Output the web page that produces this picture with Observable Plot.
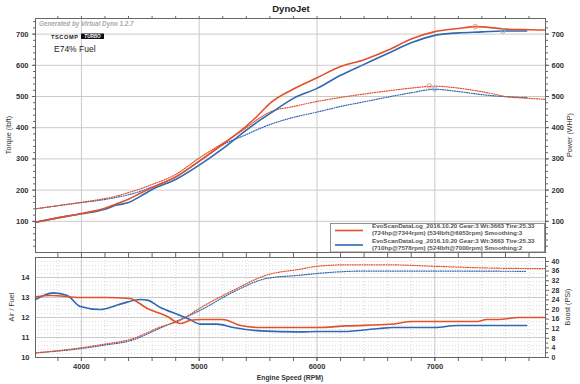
<!DOCTYPE html>
<html>
<head>
<meta charset="utf-8">
<script src="https://cdn.jsdelivr.net/npm/d3@7"></script>
<script src="https://cdn.jsdelivr.net/npm/@observablehq/plot@0.6"></script>
<style>
  html, body { margin: 0; padding: 0; background: #fff; }
  #wrap { position: relative; width: 580px; height: 384px; background: #fff; overflow: hidden; font-family: "Liberation Sans", Arial, sans-serif; }
  #wrap > svg, #wrap > div { position: absolute; left: 0; }
</style>
</head>
<body>
<div id="wrap"></div>
<script>
// ---------- data ----------
const xDomain = [3610, 7940];
const rpmMajor = [4000, 5000, 6000, 7000];

// run 1 (red) power & torque
const rpm1 = [3610, 3800, 4000, 4200, 4300, 4400, 4500, 4600, 4800, 5000, 5200, 5400, 5500, 5600, 5800, 6000, 6200, 6400, 6600, 6800, 7000, 7200, 7344, 7500, 7600, 7800, 7940];
const hp1  = [97, 111, 125, 142, 156, 171, 190, 208, 242, 293, 347, 405, 440, 478, 524, 560, 596, 618, 648, 684, 708, 718, 724, 720, 716, 714, 713];
const tq1  = [140, 150, 161, 173, 181, 192, 204, 218, 250, 303, 350, 400, 428, 450, 468, 484, 497, 508, 518, 527, 533, 527, 519, 508, 500, 494, 491];

// run 2 (blue) power & torque
const rpm2 = [3610, 3800, 4000, 4200, 4300, 4400, 4500, 4600, 4800, 5000, 5200, 5400, 5500, 5600, 5800, 6000, 6200, 6400, 6600, 6800, 7000, 7200, 7400, 7578, 7780];
const hp2  = [97, 111, 124, 139, 152, 160, 180, 202, 234, 280, 333, 392, 420, 445, 494, 526, 568, 603, 638, 672, 696, 704, 707, 710, 710];
const tq2  = [140, 150, 160, 170, 177, 185, 196, 210, 242, 292, 345, 378, 395, 410, 433, 450, 468, 483, 498, 512, 523, 516, 506, 500, 497];

// peak markers
const peakHpRpm = [7344, 7578];
const peakHp    = [724, 710];
const peakTqRpm = [6953, 7000];
const peakTq    = [534, 524];

// air / fuel
const afrRpm1 = [3610, 3740, 3990, 4200, 4415, 4480, 4560, 4670, 4730, 4810, 4840, 4920, 5010, 5200, 5350, 5520, 5700, 6000, 6250, 6620, 6815, 7000, 7360, 7440, 7530, 7720, 7940];
const afr1    = [13.03, 13.1, 13.0, 13.0, 12.95, 12.75, 12.45, 12.2, 12.05, 11.75, 11.7, 11.85, 11.9, 11.9, 11.6, 11.5, 11.5, 11.5, 11.58, 11.66, 11.8, 11.8, 11.8, 11.9, 11.9, 12.0, 12.0];
const afrRpm2 = [3610, 3680, 3760, 3880, 3990, 4160, 4330, 4500, 4560, 4670, 4840, 4920, 5010, 5150, 5290, 5520, 5860, 6000, 6220, 6530, 6640, 7000, 7190, 7780];
const afr2    = [12.9, 13.1, 13.23, 13.1, 12.55, 12.4, 12.67, 12.9, 12.87, 12.5, 12.1, 11.9, 11.67, 11.67, 11.5, 11.33, 11.28, 11.3, 11.3, 11.45, 11.5, 11.5, 11.6, 11.6];

// boost
const boostRpm1 = [3610, 3990, 4200, 4415, 4670, 4840, 5010, 5290, 5570, 5860, 6000, 6250, 6620, 7000, 7440, 7940];
const boost1    = [1.9, 4.0, 5.6, 7.5, 12.7, 15.5, 20.7, 28, 34.3, 36.8, 38.0, 38.6, 38.6, 38, 37.3, 37];
const boostRpm2 = [3610, 3990, 4200, 4415, 4670, 5010, 5290, 5570, 5860, 6000, 6390, 7000, 7780];
const boost2    = [1.9, 3.7, 5.2, 7.0, 12.3, 19.7, 27.3, 32.9, 34.3, 35, 36, 36, 35.9];

// ticks
const torqueTicks = [100, 200, 300, 400, 500, 600, 700];
const torqueMinor = d3.range(20, 750, 20);
const rpmMinor = d3.range(3800, 7941, 200);
const afrTicks = [10, 11, 12, 13, 14];
const afrMinor = d3.range(10.2, 15, 0.2);
const boostTicks = d3.range(0, 41, 4);
const boostMinor = d3.range(2, 41, 4);

// legend texts
const legendLines = [
  ["EvoScanDataLog_2016.10.20 Gear:3 Wt:3663 Tire:25.33", "(724hp@7344rpm) (534lbft@6953rpm) Smoothing:3"],
  ["EvoScanDataLog_2016.10.20 Gear:3 Wt:3663 Tire:25.33", "(710hp@7578rpm) (524lbft@7000rpm) Smoothing:2"]
];

// ---------- styles ----------
const RED = "#e2512b", BLUE = "#2f68b2";
const RED_L = "#ec9a8e", BLUE_L = "#8fb0d8";
const GRID = "#cacaca", FRAME = "#666";
const DOT = "1,1.4";
const font = "Liberation Sans, Arial, sans-serif";
const baseStyle = {fontFamily: font, fontSize: "7.5px", fontWeight: "bold", color: "#333", background: "transparent", overflow: "visible"};
const blank = () => "";

// ---------- top panel ----------
const topChart = Plot.plot({
  width: 580, height: 253, marginTop: 18, marginBottom: 1, marginLeft: 35, marginRight: 35,
  style: baseStyle,
  x: {domain: xDomain},
  y: {domain: [0, 750]},
  marks: [
    Plot.gridY(torqueTicks, {stroke: GRID, strokeOpacity: 1}),
    Plot.gridX(rpmMajor, {stroke: GRID, strokeOpacity: 1}),
    Plot.line(rpm2, {x: rpm2, y: tq2, stroke: BLUE, strokeWidth: 1.2, strokeDasharray: DOT, curve: "monotone-x"}),
    Plot.line(rpm1, {x: rpm1, y: tq1, stroke: RED, strokeWidth: 1.2, strokeDasharray: DOT, curve: "monotone-x"}),
    Plot.line(rpm2, {x: rpm2, y: hp2, stroke: BLUE, strokeWidth: 1.6, curve: "monotone-x"}),
    Plot.line(rpm1, {x: rpm1, y: hp1, stroke: RED, strokeWidth: 1.6, curve: "monotone-x"}),
    Plot.dot(peakHpRpm, {x: peakHpRpm, y: peakHp, r: 2.3, stroke: [RED_L, BLUE_L], fill: "none", strokeWidth: 1}),
    Plot.dot(peakTqRpm, {x: peakTqRpm, y: peakTq, r: 2.3, stroke: [RED_L, BLUE_L], fill: "none", strokeWidth: 1}),
    Plot.frame({stroke: FRAME}),
    Plot.axisY({ticks: torqueTicks, anchor: "left", tickSize: 3, tickPadding: 4, label: null, stroke: FRAME}),
    Plot.axisY({ticks: torqueMinor, anchor: "left", tickSize: 2, tickFormat: blank, label: null, stroke: FRAME}),
    Plot.axisY({ticks: torqueTicks, anchor: "right", tickSize: 3, tickPadding: 3, label: null, stroke: FRAME}),
    Plot.axisY({ticks: torqueMinor, anchor: "right", tickSize: 2, tickFormat: blank, label: null, stroke: FRAME}),
    Plot.axisX({ticks: rpmMinor, anchor: "top", tickSize: 3, tickFormat: blank, label: null, stroke: FRAME})
  ]
});
topChart.style.top = "0px";

// ---------- bottom panel ----------
const K = 5 / 41.66;               // boost psi -> AFR units
const toAfr = p => 10 + p * K;
const bottomChart = Plot.plot({
  width: 580, height: 132, marginTop: 5, marginBottom: 27, marginLeft: 35, marginRight: 35,
  style: baseStyle,
  x: {domain: xDomain},
  y: {domain: [10, 15]},
  marks: [
    Plot.gridY(afrMinor, {stroke: "#c4c4c4", strokeOpacity: 1, strokeDasharray: "1,2", strokeWidth: 0.6}),
    Plot.gridX(rpmMinor, {stroke: "#c4c4c4", strokeOpacity: 1, strokeDasharray: "1,2", strokeWidth: 0.6}),
    Plot.gridY([11, 12, 13, 14], {stroke: GRID, strokeOpacity: 1}),
    Plot.gridX(rpmMajor, {stroke: GRID, strokeOpacity: 1}),
    Plot.line(boostRpm2, {x: boostRpm2, y: boost2.map(toAfr), stroke: BLUE, strokeWidth: 1.2, strokeDasharray: DOT, curve: "monotone-x"}),
    Plot.line(boostRpm1, {x: boostRpm1, y: boost1.map(toAfr), stroke: RED, strokeWidth: 1.2, strokeDasharray: DOT, curve: "monotone-x"}),
    Plot.line(afrRpm2, {x: afrRpm2, y: afr2, stroke: BLUE, strokeWidth: 1.6, curve: "monotone-x"}),
    Plot.line(afrRpm1, {x: afrRpm1, y: afr1, stroke: RED, strokeWidth: 1.6, curve: "monotone-x"}),
    Plot.frame({stroke: FRAME}),
    Plot.axisY({ticks: afrTicks, anchor: "left", tickSize: 0, tickPadding: 6, label: null, tickFormat: d => String(d)}),
    Plot.axisY({ticks: boostTicks.map(toAfr), anchor: "right", tickSize: 3, tickPadding: 3, label: null, stroke: FRAME, fontSize: 7,
      tickFormat: d => String(Math.round((d - 10) / K))}),
    Plot.axisY({ticks: boostMinor.map(toAfr), anchor: "right", tickSize: 2, tickFormat: blank, label: null, stroke: FRAME}),
    Plot.axisX({ticks: rpmMajor, anchor: "bottom", tickSize: 4, tickPadding: 2, label: null, stroke: FRAME, tickFormat: d => String(d)}),
    Plot.axisX({ticks: rpmMinor, anchor: "bottom", tickSize: 4, tickFormat: blank, label: null, stroke: FRAME}),
    Plot.axisX({ticks: rpmMinor, anchor: "top", tickSize: 5, tickFormat: blank, label: null, stroke: FRAME})
  ]
});
bottomChart.style.top = "252px";

const wrap = document.getElementById("wrap");
wrap.appendChild(topChart);
wrap.appendChild(bottomChart);

// ---------- overlay texts (title, notes, axis titles, legend) ----------
const ns = "http://www.w3.org/2000/svg";
const ov = d3.create("svg").attr("xmlns", ns).attr("width", 580).attr("height", 384)
  .style("position", "absolute").style("left", "0px").style("top", "0px")
  .style("font-family", font).style("pointer-events", "none");

ov.append("text").attr("x", 291).attr("y", 11.5).attr("text-anchor", "middle")
  .attr("font-size", 9.5).attr("font-weight", "bold").attr("fill", "#222").text("DynoJet");

ov.append("text").attr("x", 39).attr("y", 26).attr("font-size", 6.3).attr("font-weight", "bold")
  .attr("font-style", "italic").attr("fill", "#a8a8a8").text("Generated by Virtual Dyno 1.2.7");

// TSCOMP logo
ov.append("text").attr("x", 51).attr("y", 38.6).attr("font-size", 5.6).attr("font-weight", "bold")
  .attr("letter-spacing", 0.6).attr("fill", "#222").text("TSCOMP");
ov.append("rect").attr("x", 81).attr("y", 33.5).attr("width", 23).attr("height", 5.5).attr("fill", "#111");
ov.append("text").attr("x", 92.5).attr("y", 38).attr("text-anchor", "middle").attr("font-size", 4.6)
  .attr("font-weight", "bold").attr("font-style", "italic").attr("fill", "#fff").text("TURBO");

ov.append("text").attr("x", 54).attr("y", 52).attr("font-size", 8.5).attr("fill", "#222").text("E74% Fuel");

// axis titles
const vtitle = (x, y, t) => ov.append("text").attr("transform", `translate(${x},${y}) rotate(-90)`)
  .attr("text-anchor", "middle").attr("font-size", 7.2).attr("fill", "#333").text(t);
vtitle(11, 135, "Torque (lbft)");
vtitle(572, 135, "Power (WHP)");
vtitle(14, 307, "Air / Fuel");
vtitle(570, 307, "Boost (PSI)");
ov.append("text").attr("x", 290).attr("y", 379.5).attr("text-anchor", "middle").attr("font-size", 6.8)
  .attr("font-weight", "bold").attr("fill", "#333").text("Engine Speed (RPM)");

// legend
ov.append("rect").attr("x", 330.5).attr("y", 223.5).attr("width", 214).attr("height", 28.5)
  .attr("fill", "#fff").attr("stroke", "#777").attr("stroke-width", 0.8);
const legColors = [RED, BLUE];
legendLines.forEach((lines, i) => {
  const y0 = 228 + i * 14.5;
  ov.append("line").attr("x1", 335).attr("x2", 363).attr("y1", y0 + 2.5).attr("y2", y0 + 2.5)
    .attr("stroke", legColors[i]).attr("stroke-width", 1.6);
  lines.forEach((t, j) => {
    ov.append("text").attr("x", 372).attr("y", y0 + j * 7.2).attr("font-size", 6.2)
      .attr("font-weight", "bold").attr("fill", "#555").text(t);
  });
});

wrap.appendChild(ov.node());
</script>
</body>
</html>
